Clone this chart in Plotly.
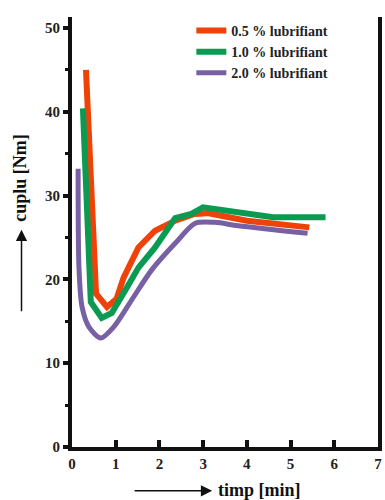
import plotly.graph_objects as go

# Data
x_05 = [0.32, 0.55, 0.80, 1.02, 1.18, 1.52, 1.90, 2.36, 2.80, 3.10, 4.00, 5.43]
y_05 = [45.0, 18.3, 16.7, 17.7, 20.2, 23.8, 25.8, 27.0, 27.8, 27.9, 27.0, 26.2]

x_10 = [0.25, 0.43, 0.68, 0.91, 1.22, 1.52, 1.90, 2.36, 2.73, 3.00, 4.60, 5.80]
y_10 = [40.4, 17.3, 15.4, 16.0, 18.7, 21.4, 23.8, 27.3, 27.8, 28.6, 27.4, 27.4]

x_20 = [0.14, 0.16, 0.23, 0.39, 0.66, 0.95, 1.36, 1.82, 2.36, 2.82, 3.27, 3.80, 5.39]
y_20 = [33.2, 21.4, 16.7, 14.3, 13.0, 14.3, 17.5, 21.1, 24.3, 26.7, 26.8, 26.4, 25.5]

names = ["0.5 % lubrifiant", "1.0 % lubrifiant", "2.0 % lubrifiant"]
colors = ["#EF4209", "#0B9A52", "#7760A3"]
x_ticks = [0, 1, 2, 3, 4, 5, 6, 7]
y_ticks = [0, 10, 20, 30, 40, 50]

serif = "Liberation Serif"

fig = go.Figure()
fig.add_trace(go.Scatter(x=x_05, y=y_05, mode="lines", name=names[0],
                         line=dict(color=colors[0], width=6)))
fig.add_trace(go.Scatter(x=x_10, y=y_10, mode="lines", name=names[1],
                         line=dict(color=colors[1], width=6)))
fig.add_trace(go.Scatter(x=x_20, y=y_20, mode="lines", name=names[2],
                         line=dict(color=colors[2], width=5, shape="spline", smoothing=0.8)))

fig.update_layout(
    width=385, height=500,
    margin=dict(l=72, r=3, t=17, b=53),
    paper_bgcolor="white", plot_bgcolor="white",
    showlegend=True,
    legend=dict(x=0.39, y=1.005, xanchor="left", yanchor="top",
                bgcolor="rgba(0,0,0,0)",
                font=dict(family=serif, size=14, color="#222", weight="bold"),
                tracegroupgap=0),
    xaxis=dict(range=[0, 7], tickvals=x_ticks, ticktext=[str(v) for v in x_ticks],
               showgrid=False, zeroline=False,
               showline=True, linecolor="#111", linewidth=4,
               ticks="inside", ticklen=7, tickwidth=4, tickcolor="#111",
               tickfont=dict(family=serif, size=15, color="#222", weight="bold"),
               mirror=False),
    yaxis=dict(range=[0, 51.3], tickvals=y_ticks, ticktext=[str(v) for v in y_ticks],
               showgrid=False, zeroline=False,
               showline=True, linecolor="#111", linewidth=4,
               ticks="outside", ticklen=5, tickwidth=4, tickcolor="#111",
               tickfont=dict(family=serif, size=15, color="#222", weight="bold"),
               minor=dict(ticks="outside", ticklen=3, tickwidth=3, tickcolor="#111", dtick=5,
                          showgrid=False),
               mirror=True),
)

# Axis titles with arrows
fig.add_annotation(xref="paper", yref="paper", x=-0.168, y=0.625,
                   xanchor="center", yanchor="middle",
                   text="cuplu [Nm]", textangle=-90, showarrow=False,
                   font=dict(family=serif, size=18, color="#111", weight="bold"))
fig.add_annotation(xref="paper", yref="paper", x=-0.165, y=0.505, text="",
                   showarrow=True, ax=0, ay=83, arrowhead=2, arrowsize=1.5,
                   arrowwidth=1.5, arrowcolor="#111")
fig.add_annotation(xref="paper", yref="paper", x=0.613, y=-0.100,
                   xanchor="center", yanchor="middle",
                   text="timp [min]", showarrow=False,
                   font=dict(family=serif, size=18, color="#111", weight="bold"))
fig.add_annotation(xref="paper", yref="paper", x=0.458, y=-0.102, text="",
                   showarrow=True, ax=-79, ay=0, arrowhead=2, arrowsize=1.5,
                   arrowwidth=1.5, arrowcolor="#111")

fig.write_html("out.html")
